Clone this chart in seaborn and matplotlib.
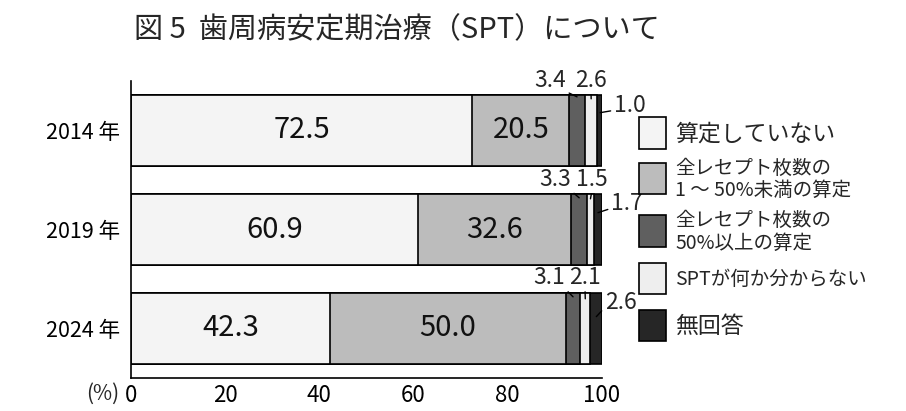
import numpy as np
import pandas as pd
import matplotlib
matplotlib.use('Agg')
import matplotlib.pyplot as plt
from matplotlib.patches import Rectangle
import seaborn as sns

# data
years = ['2014 年', '2019 年', '2024 年']
categories = ['算定していない', '全レセプト枚数の\n1 ～ 50%未満の算定', '全レセプト枚数の\n50%以上の算定',
              'SPTが何か分からない', '無回答']
not_claimed = [72.5, 60.9, 42.3]
under_50 = [20.5, 32.6, 50.0]
over_50 = [3.4, 3.3, 3.1]
unknown = [2.6, 1.5, 2.1]
no_answer = [1.0, 1.7, 2.6]
colors = ['#f4f4f4', '#bcbcbc', '#5f5f5f', '#eeeeee', '#262626']

sns.set_theme(style='white')
plt.rcParams['font.family'] = ['Noto Sans CJK JP', 'DejaVu Sans']

W, H = 906, 411
fig = plt.figure(figsize=(W / 100, H / 100), dpi=100)
ax = fig.add_axes([131 / W, 1 - 378 / H, 471 / W, 297 / H])

df = pd.DataFrame({'year': years, 's0': not_claimed, 's1': under_50, 's2': over_50,
                   's3': unknown, 's4': no_answer})
segs = ['s0', 's1', 's2', 's3', 's4']
cum = df[segs].cumsum(axis=1)

# stacked bars: draw cumulative totals from longest to shortest
for k in range(len(segs) - 1, -1, -1):
    sns.barplot(x=cum[segs[k]], y=df['year'], orient='h', color=colors[k], saturation=1,
                edgecolor='black', linewidth=1.2, width=0.71, ax=ax)

# values inside the two big segments
for i in range(len(years)):
    left = 0
    for k in range(2):
        v = df[segs[k]][i]
        ax.text(left + v / 2, i, f'{v:.1f}', ha='center', va='center', fontsize=21, color='#111111')
        left += v

# small segments: labels with leader lines (text pos, point, line anchor)
small_pos = [
    [((88.96, -0.51), (94.7, -0.34), (1, 0)), ((97.66, -0.51), (97.7, -0.32), (0.5, 0)),
     ((105.9, -0.25), (99.6, -0.18), (0, 0.3))],
    [((90.0, 0.49), (95.15, 0.68), (1, 0)), ((97.88, 0.49), (97.55, 0.69), (0.5, 0)),
     ((105.3, 0.74), (99.15, 0.83), (0, 0.3))],
    [((88.75, 1.48), (93.85, 1.68), (1, 0)), ((96.39, 1.48), (96.45, 1.70), (0.5, 0)),
     ((104.0, 1.74), (98.8, 1.88), (0, 0.3))],
]
for i in range(len(years)):
    for j, k in enumerate([2, 3, 4]):
        v = df[segs[k]][i]
        tpos, pt, rel = small_pos[i][j]
        ax.annotate(f'{v:.1f}', xy=pt, xytext=tpos, ha='center', va='center', fontsize=16.5,
                    annotation_clip=False,
                    arrowprops=dict(arrowstyle='-', color='black', lw=1.0, relpos=rel,
                                    shrinkA=0, shrinkB=0))

ax.set_xlim(0, 100)
ax.set_ylim(2.5, -0.5)
ax.set_xticks([0, 20, 40, 60, 80, 100])
ax.set_xlabel('')
ax.set_ylabel('')
ax.tick_params(axis='x', direction='in', length=4.5, width=1.1, labelsize=16, pad=4, colors='black')
ax.tick_params(axis='y', length=0, labelsize=15.5, pad=8, colors='black')
for s in ['top', 'right']:
    ax.spines[s].set_visible(False)
for s in ['left', 'bottom']:
    ax.spines[s].set_color('black')
    ax.spines[s].set_linewidth(1.2)

fig.text(103 / W, 1 - 394 / H, '(%)', ha='center', va='center', fontsize=15)
fig.text(134 / W, 1 - 30 / H, '図 5  歯周病安定期治療（SPT）について', ha='left', va='center', fontsize=21)

# legend drawn by hand
leg = [(117, 149, 16.5), (163, 194, 14), (215, 247, 14), (263, 294, 14), (310, 341, 16.5)]
for k, (y0, y1, fs) in enumerate(leg):
    fig.add_artist(Rectangle((639 / W, 1 - y1 / H), 27 / W, (y1 - y0) / H, transform=fig.transFigure,
                             facecolor=colors[k], edgecolor='black', linewidth=1.2))
    fig.text(675 / W, 1 - ((y0 + y1) / 2 + 1) / H, categories[k], ha='left', va='center',
             fontsize=fs, linespacing=1.1)

fig.savefig('out.png', dpi=100, facecolor='white')
